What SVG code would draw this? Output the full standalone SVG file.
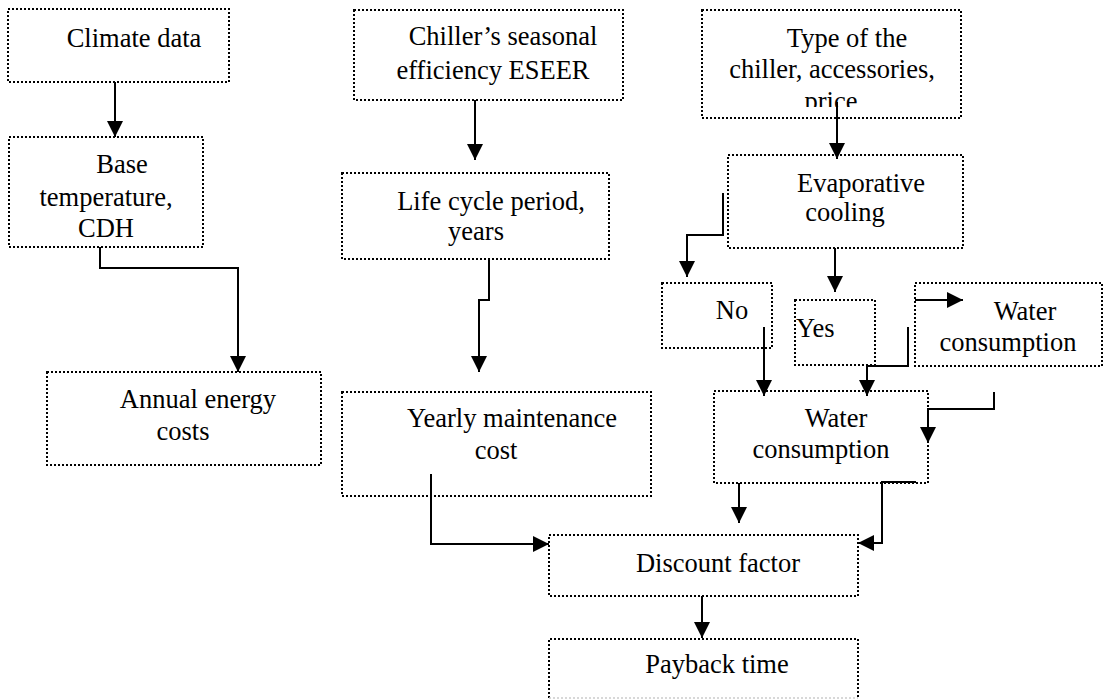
<svg xmlns="http://www.w3.org/2000/svg" width="1109" height="700" viewBox="0 0 1109 700">
<style>
.box{fill:none;stroke:#000;stroke-width:2;stroke-dasharray:2 2}
.t{font-family:"Liberation Serif","Times New Roman",serif;font-size:26.5px;fill:#000;text-anchor:middle}
.c{fill:none;stroke:#000;stroke-width:2;marker-end:url(#ah)}
</style>
<defs>
<marker id="ah" markerUnits="userSpaceOnUse" markerWidth="17" markerHeight="17" viewBox="0 0 17 17" refX="16" refY="8.5" orient="auto">
<path d="M0,0.5 L16,8.5 L0,16.5 Z" fill="#000"/>
</marker>
<clipPath id="clipType"><rect x="700" y="0" width="270" height="107"/></clipPath>
</defs>
<rect width="1109" height="700" fill="#fff"/>
<g id="n-climate"><rect class="box" x="8" y="9" width="221" height="73"/><text class="t" x="134" y="47">Climate data</text></g>
<g id="n-chiller"><rect class="box" x="354" y="10" width="269" height="90"/><text class="t" x="503" y="45">Chiller’s seasonal</text><text class="t" x="493" y="79">efficiency ESEER</text></g>
<g id="n-type"><rect class="box" x="702" y="10" width="259" height="108"/><g clip-path="url(#clipType)"><text class="t" x="847" y="47">Type of the</text><text class="t" x="832" y="78">chiller, accessories,</text><text class="t" x="831" y="110">price</text></g></g>
<g id="n-base"><rect class="box" x="9" y="137" width="194" height="110"/><text class="t" x="122" y="173">Base</text><text class="t" x="106" y="206">temperature,</text><text class="t" x="106" y="237">CDH</text></g>
<g id="n-life"><rect class="box" x="342" y="173" width="267" height="86"/><text class="t" x="491" y="210">Life cycle period,</text><text class="t" x="476" y="240">years</text></g>
<g id="n-evap"><rect class="box" x="728" y="155" width="235" height="93"/><text class="t" x="861" y="192">Evaporative</text><text class="t" x="845" y="221">cooling</text></g>
<g id="n-annual"><rect class="box" x="47" y="372" width="274" height="93"/><text class="t" x="198" y="408">Annual energy</text><text class="t" x="183" y="440">costs</text></g>
<g id="n-yearly"><rect class="box" x="342" y="392" width="309" height="104"/><text class="t" x="512" y="427">Yearly maintenance</text><text class="t" x="496" y="459">cost</text></g>
<g id="n-no"><rect class="box" x="662" y="283" width="110" height="65"/><text class="t" x="732" y="319">No</text></g>
<g id="n-yes"><rect class="box" x="795" y="300" width="80" height="65"/><text class="t" x="796" y="337" style="text-anchor:start">Yes</text></g>
<g id="n-water-r"><rect class="box" x="915" y="283" width="187" height="83"/><text class="t" x="1025" y="320">Water</text><text class="t" x="1008" y="351">consumption</text></g>
<g id="n-water-m"><rect class="box" x="714" y="391" width="214" height="92"/><text class="t" x="836" y="427">Water</text><text class="t" x="821" y="458">consumption</text></g>
<g id="n-discount"><rect class="box" x="549" y="535" width="309" height="61"/><text class="t" x="718" y="572">Discount factor</text></g>
<g id="n-payback"><path class="box" d="M549,698 V639 H858 V698"/><path d="M549,698 H858" fill="none" stroke="#ccc" stroke-width="1.5" stroke-dasharray="2 2"/><text class="t" x="717" y="673">Payback time</text></g>
<g id="connectors">
<path class="c" d="M115,82 V137"/>
<path class="c" d="M100,247 V268 H238 V372"/>
<path class="c" d="M475,100 V160"/>
<path class="c" d="M489,259 V300 H479 V372"/>
<path class="c" d="M431,474 V544 H549"/>
<path class="c" d="M837,102 V159"/>
<path class="c" d="M723,193 V235 H687 V277"/>
<path class="c" d="M835,248 V292"/>
<path class="c" d="M915,300 H963"/>
<path class="c" d="M908,327 V366 H867 V396"/>
<path class="c" d="M764,327 V396"/>
<path class="c" d="M994,392 V409 H928 V443"/>
<path class="c" d="M739,483 V523"/>
<path class="c" d="M916,482 H882 V543 H858"/>
<path class="c" d="M702,596 V638"/>
</g>
</svg>
